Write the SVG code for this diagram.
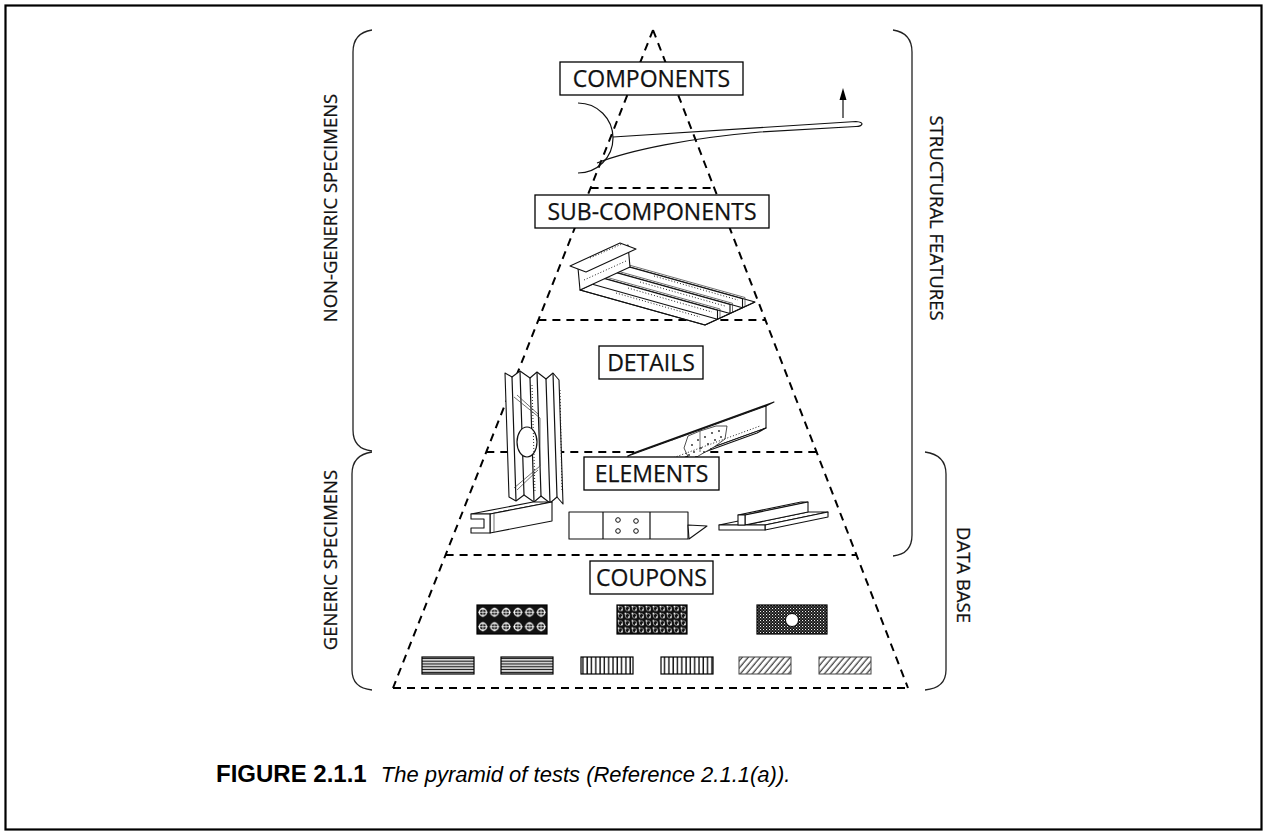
<svg xmlns="http://www.w3.org/2000/svg" width="1268" height="835" viewBox="0 0 1268 835">
<defs>
<style>
.dash{fill:none;stroke:#000;stroke-width:2;stroke-dasharray:8 6;}
.box{fill:#fff;stroke:#000;stroke-width:1.3;}
.lbl{font-family:"Open Sans","Noto Sans","DejaVu Sans",sans-serif;font-size:23px;fill:#111;stroke:#111;stroke-width:0.25;text-anchor:middle;}
.side{font-family:"Open Sans","Noto Sans","DejaVu Sans",sans-serif;font-size:18.5px;fill:#111;stroke:#111;stroke-width:0.25;text-anchor:middle;}
.br{fill:none;stroke:#222;stroke-width:1.3;}
.ln{fill:none;stroke:#111;stroke-width:1.2;stroke-linejoin:round;}
.lnw{fill:#fff;stroke:#111;stroke-width:1.1;stroke-linejoin:round;}
.thin{fill:none;stroke:#333;stroke-width:0.7;}
.dots{fill:none;stroke:#222;stroke-width:1;stroke-dasharray:1 2;}
.cap{font-family:"Liberation Sans",Arial,sans-serif;font-size:22px;fill:#000;}
.cp{stroke:#000;stroke-width:1.2;}
</style>
<pattern id="weave1" width="11.67" height="14.5" patternUnits="userSpaceOnUse" x="477" y="605">
<rect width="11.67" height="14.5" fill="#111"/>
<circle cx="5.83" cy="7.25" r="3.6" fill="none" stroke="#fff" stroke-width="1.3"/>
<path d="M5.83,2.5V12M1.2,7.25H10.5" stroke="#fff" stroke-width="0.8"/>
</pattern>
<pattern id="weave2" width="7" height="7.25" patternUnits="userSpaceOnUse" x="617" y="605">
<rect width="7" height="7.25" fill="#111"/>
<rect x="0.6" y="0.6" width="1.6" height="1.6" fill="#fff"/>
<rect x="4.1" y="4.1" width="1.6" height="1.6" fill="#fff"/>
<circle cx="3.5" cy="3.6" r="2.2" fill="none" stroke="#ddd" stroke-width="0.6"/>
</pattern>
<pattern id="weave3" width="3" height="3" patternUnits="userSpaceOnUse" x="757" y="605">
<rect width="3" height="3" fill="#111"/>
<rect x="0" y="0" width="1.1" height="1.1" fill="#eee"/>
<rect x="1.5" y="1.5" width="1" height="1" fill="#bbb"/>
</pattern>
<pattern id="hl" width="10" height="2.8" patternUnits="userSpaceOnUse" x="0" y="657">
<rect width="10" height="2.8" fill="#fff"/>
<rect y="0.7" width="10" height="1.3" fill="#111"/>
</pattern>
<pattern id="vl" width="4.3" height="10" patternUnits="userSpaceOnUse" x="581" y="0">
<rect width="4.3" height="10" fill="#fff"/>
<rect x="1.2" width="1.4" height="10" fill="#111"/>
</pattern>
<pattern id="dg" width="4.6" height="10" patternUnits="userSpaceOnUse" patternTransform="rotate(40)">
<rect width="4.6" height="10" fill="#fff"/>
<rect x="1.5" width="1.1" height="10" fill="#222"/>
</pattern>
</defs>

<rect id="frame" x="5.5" y="5.5" width="1256" height="824" fill="#fff" stroke="#000" stroke-width="2.2"/>

<g id="pyramid-lines">
<path class="dash" d="M653,30L393,688M653,30L908,688"/>
<path class="dash" d="M590.6,188H714.2M538.4,320H765.4M486.3,452H816.5M445.6,555H856.4M393,688H908"/>
</g>

<g id="brackets">
<path class="br" d="M372,30Q353,33 353,52L353,430Q353,449 372,451"/>
<path class="br" d="M372,452Q352,455 352,474L352,670Q352,688 372,690"/>
<path class="br" d="M893,30Q912,33 912,52L912,535Q912,554 893,556"/>
<path class="br" d="M925,452Q946,455 946,474L946,670Q946,688 925,690"/>
<text class="side" transform="translate(337,208) rotate(-90)">NON-GENERIC SPECIMENS</text>
<text class="side" transform="translate(337,560) rotate(-90)">GENERIC SPECIMENS</text>
<text class="side" transform="translate(930,218) rotate(90)">STRUCTURAL FEATURES</text>
<text class="side" transform="translate(957,575) rotate(90)">DATA BASE</text>
</g>

<g id="components">
<path class="ln" d="M578,103A35,35 0 0 1 578,173"/>
<path class="ln" d="M613,137L856,121.5Q862,122 862,124Q861,126.5 856,126.5L760,132C690,138 630,150 597,163"/>
<line class="ln" x1="843" y1="118" x2="843" y2="99" stroke-width="1.5"/>
<polygon points="843,88 839.5,100 846.5,100" fill="#000"/>
<rect class="box" x="560" y="62" width="183" height="33"/>
<text class="lbl" x="651.5" y="86.7">COMPONENTS</text>
</g>

<g id="sub-components">
<rect class="box" x="535" y="195" width="234" height="33"/>
<text class="lbl" x="652" y="219.7">SUB-COMPONENTS</text>
<polygon class="lnw" points="580,290 705,325 755,302 630,267"/>
<polygon class="lnw" points="617.5,272.75 742.5,307.75 742.5,298.75 617.5,263.75"/>
<path class="thin" d="M620,262.5L745,297.5L745,306.5"/>
<polygon class="lnw" points="605,278.5 730,313.5 730,304.5 605,269.5"/>
<path class="thin" d="M607.5,268.3L732.5,303.3L732.5,312.3"/>
<polygon class="lnw" points="592.5,284.25 717.5,319.25 717.5,310.25 592.5,275.25"/>
<path class="thin" d="M595,274L720,309L720,318"/>
<path class="dots" d="M640,282L725,306M628,288L712,312M654,276L738,300M616,293L700,317"/>
<polygon class="lnw" points="580,290 630,267 628,245 578,268"/>
<polygon class="lnw" points="570,266 620,243 636,249 586,272"/>
<path class="dots" d="M584,280L626,261M590,258L622,244"/>
<path class="ln" d="M580,290L705,325L755,302" stroke-width="1.4"/>
</g>

<g id="details">
<rect class="box" x="599" y="346" width="104" height="33"/>
<text class="lbl" x="651" y="370.7">DETAILS</text>
<polygon class="lnw" points="505,373 512,377 520,371 530,378 537,372 546,379 553,373 559,380 563,504 557,497 550,503 541,496 534,502 524,495 516,501 509,497"/>
<path class="ln" d="M512,377L516,501M520,371L524,495M530,378L534,502M537,372L541,496M546,379L550,503M553,373L557,497"/>
<path class="thin" d="M514,397L540,418L540,466L514,488M517,395L538,414M517,490L538,470"/>
<ellipse cx="527" cy="442" rx="10" ry="15" fill="#fff" stroke="#111" stroke-width="1.2"/>
<path class="dots" d="M560,390L562,492M532,385L535,492"/>
<polygon class="lnw" points="628,456 766,406 774,402 636,452"/>
<polygon class="lnw" points="628,456 766,406 766,428 628,478"/>
<polygon class="lnw" points="628,478 766,428 757,433 619,483"/>
<polygon fill="#fff" stroke="#222" stroke-width="0.8" points="684,448 688,436 700,431 716,426 727,426 725,439 714,447 700,455 690,461"/>
<g fill="#222">
<circle cx="692" cy="445" r="0.9"/><circle cx="698" cy="440" r="0.9"/><circle cx="705" cy="437" r="0.9"/><circle cx="712" cy="433" r="0.9"/><circle cx="719" cy="431" r="0.9"/>
<circle cx="694" cy="452" r="0.9"/><circle cx="701" cy="448" r="0.9"/><circle cx="708" cy="444" r="0.9"/><circle cx="715" cy="440" r="0.9"/><circle cx="721" cy="437" r="0.9"/>
<circle cx="696" cy="457" r="0.9"/><circle cx="689" cy="455" r="0.9"/><circle cx="704" cy="452" r="0.9"/><circle cx="711" cy="449" r="0.9"/>
</g>
<line class="thin" x1="700" y1="430" x2="700" y2="452"/>
<path class="dots" d="M672,440L745,413M640,470L760,426"/>
</g>

<g id="elements">
<rect class="box" x="584" y="457" width="135" height="33"/>
<text class="lbl" x="651.5" y="481.7">ELEMENTS</text>
<polygon class="lnw" points="471,514 490,514 552,502 533,502"/>
<polygon class="lnw" points="490,514 552,502 552,521 490,533"/>
<line class="thin" x1="494" y1="513.2" x2="494" y2="532.2"/>
<polygon class="lnw" points="471,514 490,514 490,533 471,533 471,528 484,528 484,519 471,519"/>
<rect class="lnw" x="569" y="512" width="119" height="27"/>
<path class="ln" d="M603,512V539M650,512V539"/>
<g fill="none" stroke="#111" stroke-width="1">
<circle cx="618" cy="520" r="2.3"/><circle cx="636" cy="521" r="2.3"/><circle cx="618" cy="531" r="2.3"/><circle cx="636" cy="531" r="2.3"/>
</g>
<polygon class="lnw" points="688,525 707,526 689,539"/>
<polygon class="lnw" points="719,525 738,525 801,512 782,512"/>
<polygon class="lnw" points="745,525 765,525 828,512 808,512"/>
<polygon class="lnw" points="765,525 828,512 828,517 765,530"/>
<polygon class="lnw" points="738,515 745,515 808,502 801,502"/>
<polygon class="lnw" points="745,515 808,502 808,512 745,525"/>
<polygon class="lnw" points="719,525 765,525 765,530 719,530"/>
<polygon class="lnw" points="738,515 745,515 745,525 738,525"/>
</g>

<g id="coupons">
<rect class="box" x="590" y="561" width="123" height="33"/>
<text class="lbl" x="651.5" y="585.7">COUPONS</text>
<rect class="cp" x="477" y="605" width="70" height="29" fill="url(#weave1)"/>
<rect class="cp" x="617" y="605" width="70" height="29" fill="url(#weave2)"/>
<rect class="cp" x="757" y="605" width="70" height="29" fill="url(#weave3)"/>
<circle cx="792" cy="620" r="6.5" fill="#fff" stroke="#000" stroke-width="1"/>
<rect class="cp" x="422" y="657" width="52" height="17" fill="url(#hl)"/>
<rect class="cp" x="501" y="657" width="52" height="17" fill="url(#hl)"/>
<rect class="cp" x="581" y="657" width="52" height="17" fill="url(#vl)"/>
<rect class="cp" x="661" y="657" width="52" height="17" fill="url(#vl)"/>
<rect x="739" y="657" width="52" height="17" fill="url(#dg)" stroke="#444" stroke-width="1"/>
<rect x="819" y="657" width="52" height="17" fill="url(#dg)" stroke="#444" stroke-width="1"/>
</g>

<g id="caption">
<text class="cap" x="216" y="782"><tspan font-weight="bold" font-size="24">FIGURE 2.1.1</tspan><tspan font-style="italic" dx="14">The pyramid of tests (Reference 2.1.1(a)).</tspan></text>
</g>
</svg>
